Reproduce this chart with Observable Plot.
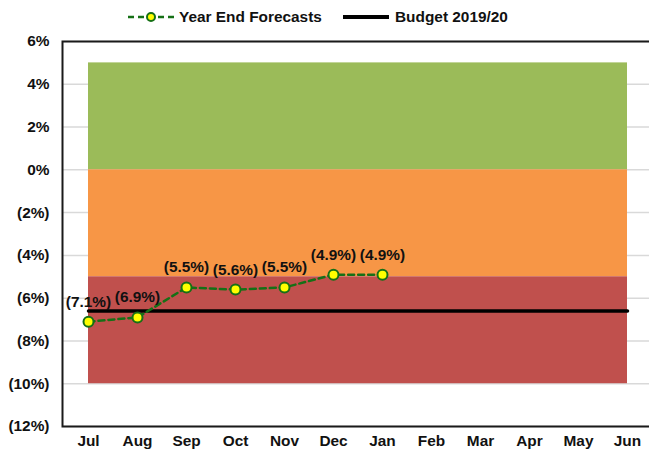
<!DOCTYPE html>
<html>
<head>
<meta charset="utf-8">
<script src="https://cdn.jsdelivr.net/npm/d3@7"></script>
<script src="https://cdn.jsdelivr.net/npm/@observablehq/plot@0.6"></script>
<style>
  html, body { margin: 0; padding: 0; background: #fff; }
  body { width: 649px; height: 450px; overflow: hidden; font-family: "Liberation Sans", Arial, sans-serif; }
  #legend { display: block; }
</style>
</head>
<body>
<svg id="legend" width="649" height="30" xmlns="http://www.w3.org/2000/svg"></svg>
<div id="chart"></div>
<script>
const months = ["Jul","Aug","Sep","Oct","Nov","Dec","Jan","Feb","Mar","Apr","May","Jun"];
const forecastMonths = ["Jul","Aug","Sep","Oct","Nov","Dec","Jan"];
const forecastValues = [-7.1, -6.9, -5.5, -5.6, -5.5, -4.9, -4.9];
const budgetValue = -6.6;
const bandLows = [0, -5, -10];
const bandHighs = [5, 0, -5];
const bandColors = ["#9bbb59", "#f79646", "#c0504d"];
const yTicks = [-12, -10, -8, -6, -4, -2, 0, 2, 4, 6];
const seriesNames = ["Year End Forecasts", "Budget 2019/20"];

const FONT = '"Liberation Sans", Arial, sans-serif';
const FS = 15.4;
const fmt = v => v < 0 ? `(${d3.format(".1~f")(-v)}%)` : `${v}%`;
const fmtLabel = v => v < 0 ? `(${(-v).toFixed(1)}%)` : `${v.toFixed(1)}%`;

const forecast = forecastMonths.map((m, i) => ({month: m, value: forecastValues[i]}));
const bands = bandLows.map((lo, i) => ({lo, hi: bandHighs[i], color: bandColors[i]}));

// Legend
const lg = d3.select("#legend");
lg.append("line").attr("x1", 128).attr("x2", 174).attr("y1", 17).attr("y2", 17)
  .attr("stroke", "#167016").attr("stroke-width", 2.5).attr("stroke-dasharray", "6,4");
lg.append("circle").attr("cx", 151).attr("cy", 17).attr("r", 4)
  .attr("fill", "#ffff00").attr("stroke", "#167016").attr("stroke-width", 2);
lg.append("text").attr("x", 179).attr("y", 17).attr("dy", "0.35em")
  .attr("font-family", FONT).attr("font-size", FS).attr("font-weight", "bold").attr("fill", "#111")
  .text(seriesNames[0]);
lg.append("line").attr("x1", 343).attr("x2", 389).attr("y1", 17).attr("y2", 17)
  .attr("stroke", "#000").attr("stroke-width", 4);
lg.append("text").attr("x", 395).attr("y", 17).attr("dy", "0.35em")
  .attr("font-family", FONT).attr("font-size", FS).attr("font-weight", "bold").attr("fill", "#111")
  .text(seriesNames[1]);

const chart = Plot.plot({
  width: 649,
  height: 420,
  marginTop: 11,
  marginBottom: 24,
  marginLeft: 62,
  marginRight: -4,
  style: {fontFamily: FONT, fontSize: FS + "px", fontWeight: "bold", color: "#111", background: "#fff", overflow: "visible"},
  x: {type: "point", domain: months, padding: 0.5, label: null},
  y: {domain: [-12, 6], label: null},
  marks: [
    Plot.ruleY(yTicks, {stroke: "#d9d9d9", strokeWidth: 1.5}),
    Plot.rect(bands, {x1: () => months[0], x2: () => months[months.length - 1], y1: "lo", y2: "hi", fill: "color"}),
    Plot.lineY(months, {x: d => d, y: () => budgetValue, stroke: "#000", strokeWidth: 3.5}),
    Plot.lineY(forecast, {x: "month", y: "value", stroke: "#167016", strokeWidth: 2.5, strokeDasharray: "6,4"}),
    Plot.dot(forecast, {x: "month", y: "value", r: 5, fill: "#ffff00", stroke: "#167016", strokeWidth: 2}),
    Plot.text(forecast, {x: "month", y: "value", text: d => fmtLabel(d.value), dy: -20, fill: "#111", fontSize: FS, fontWeight: "bold"}),
    Plot.frame({stroke: "#1a1a1a", strokeWidth: 2}),
    Plot.axisY({ticks: yTicks, tickFormat: fmt, tickSize: 0, tickPadding: 13, fontSize: FS, fontWeight: "bold"}),
    Plot.axisX({tickSize: 0, tickPadding: 9, fontSize: FS, fontWeight: "bold"})
  ]
});
document.getElementById("chart").appendChild(chart);
</script>
</body>
</html>
